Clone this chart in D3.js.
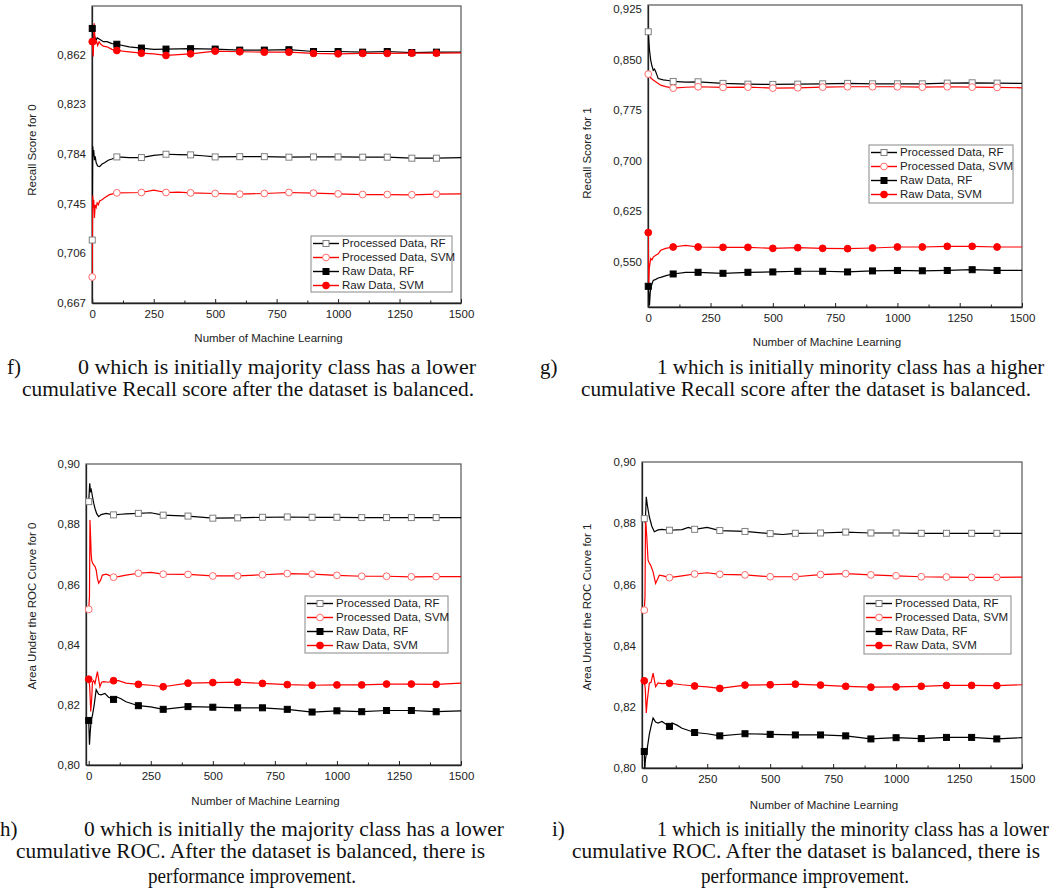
<!DOCTYPE html>
<html><head><meta charset="utf-8">
<script src="https://cdn.jsdelivr.net/npm/d3@7"></script>
<style>body{margin:0;background:#fff;overflow:hidden}</style>
</head><body>
<svg id="c" width="1057" height="892"></svg>
<script>
// ---------------- DATA ----------------
const seriesNames = ["Processed Data, RF", "Processed Data, SVM", "Raw Data, RF", "Raw Data, SVM"];
const markerX = [0,100,200,300,400,500,600,700,800,900,1000,1100,1200,1300,1400];
const xTicks = [0,250,500,750,1000,1250,1500];
const xMinorTicks = [125,375,625,875,1125,1375];
const fYTicks = [0.667,0.706,0.745,0.784,0.823,0.862];
const gYTicks = [0.550,0.625,0.700,0.775,0.850,0.925];
const hYTicks = [0.80,0.82,0.84,0.86,0.88,0.90];
const iYTicks = [0.80,0.82,0.84,0.86,0.88,0.90];

// f) Recall score for 0
const fProcRF = [[0,0.7164],[2,0.790],[4,0.782],[6,0.787],[9,0.779],[12,0.782],[16,0.777],[22,0.7745],[30,0.774],[40,0.776],[50,0.777],[65,0.779],[80,0.780],[100,0.7816],[150,0.781],[200,0.7811],[250,0.7828],[300,0.7837],[350,0.7834],[400,0.7832],[450,0.7825],[500,0.7816],[600,0.7818],[700,0.7818],[800,0.7814],[900,0.7816],[1000,0.7816],[1100,0.7814],[1200,0.7814],[1300,0.7806],[1400,0.7806],[1500,0.7811]];
const fProcSVM = [[0,0.6874],[2,0.7514],[4,0.742],[6,0.748],[9,0.7338],[12,0.744],[16,0.742],[20,0.7456],[25,0.744],[30,0.7470],[40,0.7480],[50,0.7495],[70,0.7520],[100,0.7534],[150,0.7535],[200,0.7537],[250,0.7555],[300,0.7537],[350,0.7540],[400,0.7534],[500,0.7529],[600,0.7524],[700,0.7529],[800,0.7537],[900,0.7532],[1000,0.7526],[1100,0.7521],[1200,0.7521],[1300,0.7519],[1400,0.7524],[1500,0.7526]];
const fRawRF = [[0,0.8824],[3,0.878],[6,0.874],[10,0.876],[15,0.873],[20,0.875],[30,0.874],[45,0.872],[60,0.872],[80,0.8705],[100,0.8700],[150,0.868],[200,0.867],[250,0.866],[300,0.8662],[400,0.8665],[500,0.8662],[600,0.8654],[700,0.8654],[800,0.8657],[900,0.8643],[1000,0.8643],[1100,0.8638],[1200,0.8643],[1300,0.8635],[1400,0.8638],[1500,0.8638]];
const fRawSVM = [[0,0.872],[2,0.865],[4,0.8604],[6,0.874],[8,0.8865],[10,0.878],[13,0.870],[17,0.873],[22,0.869],[28,0.872],[35,0.870],[45,0.8685],[60,0.868],[80,0.866],[100,0.8651],[150,0.8640],[200,0.863],[250,0.8625],[300,0.8612],[350,0.8618],[400,0.8625],[500,0.8646],[600,0.8641],[700,0.8638],[800,0.8638],[900,0.8628],[1000,0.8625],[1100,0.8628],[1200,0.8628],[1300,0.863],[1400,0.863],[1500,0.8633]];

// g) Recall score for 1
const gProcRF = [[0,0.8913],[3,0.875],[5,0.864],[8,0.855],[10,0.849],[14,0.842],[20,0.834],[25,0.836],[30,0.832],[35,0.827],[40,0.822],[60,0.820],[80,0.819],[100,0.8176],[150,0.8165],[200,0.8171],[300,0.8147],[400,0.8136],[500,0.8132],[600,0.8136],[700,0.8141],[800,0.8147],[900,0.8141],[1000,0.8141],[1100,0.8141],[1200,0.8151],[1300,0.8156],[1400,0.8151],[1500,0.8147]];
const gProcSVM = [[0,0.8285],[5,0.826],[10,0.823],[20,0.8196],[30,0.817],[50,0.8121],[70,0.810],[100,0.8077],[150,0.809],[200,0.8097],[300,0.8087],[400,0.8092],[500,0.8077],[600,0.8082],[700,0.8092],[800,0.8097],[900,0.8097],[1000,0.8097],[1100,0.8092],[1200,0.8097],[1300,0.8092],[1400,0.8087],[1500,0.8082]];
const gRawRF = [[0,0.5137],[3,0.500],[5,0.4854],[8,0.505],[12,0.5137],[16,0.518],[20,0.5225],[30,0.524],[40,0.526],[50,0.527],[75,0.530],[100,0.532],[150,0.5345],[200,0.5345],[300,0.533],[400,0.5345],[500,0.535],[600,0.536],[700,0.536],[800,0.535],[900,0.5365],[1000,0.5372],[1100,0.5367],[1200,0.5372],[1300,0.5383],[1400,0.5372],[1500,0.5372]];
const gRawSVM = [[0,0.5934],[2,0.513],[4,0.540],[7,0.548],[10,0.555],[15,0.553],[20,0.557],[30,0.5597],[40,0.562],[50,0.5671],[70,0.570],[100,0.5720],[150,0.5745],[200,0.5720],[300,0.5715],[400,0.5715],[500,0.570],[600,0.571],[700,0.570],[800,0.5695],[900,0.5705],[1000,0.5720],[1100,0.5720],[1200,0.5730],[1300,0.5730],[1400,0.5720],[1500,0.5720]];

// h) AUC for 0
const hProcRF = [[0,0.8875],[4,0.8936],[7,0.891],[10,0.8915],[15,0.8892],[20,0.8870],[25,0.8853],[32,0.8835],[40,0.8825],[50,0.8832],[70,0.8836],[100,0.8831],[130,0.8833],[150,0.8834],[200,0.8836],[250,0.8838],[300,0.8830],[400,0.8827],[500,0.8820],[600,0.8821],[700,0.8823],[800,0.8824],[900,0.8823],[1000,0.8823],[1100,0.8822],[1200,0.8822],[1300,0.8822],[1400,0.8822],[1500,0.8822]];
const hProcSVM = [[0,0.8517],[3,0.856],[5,0.8814],[8,0.8748],[10,0.870],[12,0.868],[16,0.867],[20,0.8665],[25,0.866],[30,0.8648],[35,0.862],[40,0.8604],[48,0.8615],[55,0.8631],[70,0.8634],[100,0.8624],[120,0.8626],[150,0.8631],[200,0.8637],[250,0.8640],[300,0.8634],[400,0.8633],[500,0.8628],[600,0.8628],[700,0.8632],[800,0.8636],[900,0.8634],[1000,0.8630],[1100,0.8627],[1200,0.8627],[1300,0.8625],[1400,0.8626],[1500,0.8626]];
const hRawRF = [[0,0.8148],[3,0.8067],[6,0.811],[10,0.8150],[15,0.8165],[22,0.820],[30,0.8250],[40,0.8235],[50,0.8233],[65,0.8238],[80,0.8225],[100,0.8218],[110,0.8227],[130,0.8220],[150,0.8210],[200,0.8197],[250,0.8193],[300,0.8185],[400,0.8194],[500,0.8192],[600,0.8190],[700,0.8190],[800,0.8185],[900,0.8176],[1000,0.8180],[1100,0.8177],[1200,0.8181],[1300,0.8181],[1400,0.8177],[1500,0.8180]];
const hRawSVM = [[0,0.8285],[4,0.826],[8,0.8178],[12,0.822],[15,0.8275],[20,0.828],[25,0.827],[35,0.8310],[45,0.8260],[52,0.8275],[60,0.8277],[80,0.8275],[100,0.8280],[120,0.8280],[150,0.8272],[200,0.8268],[250,0.8265],[300,0.8260],[400,0.8272],[500,0.8274],[600,0.8275],[700,0.8271],[800,0.8267],[900,0.8265],[1000,0.8266],[1100,0.8266],[1200,0.8269],[1300,0.8269],[1400,0.8268],[1500,0.8272]];

// i) AUC for 1
const iProcRF = [[0,0.8815],[4,0.880],[8,0.8886],[12,0.886],[16,0.884],[20,0.8821],[30,0.879],[40,0.8772],[55,0.8778],[70,0.8780],[100,0.8777],[150,0.8779],[175,0.8786],[200,0.8780],[250,0.8786],[300,0.8776],[400,0.8773],[500,0.8766],[550,0.8763],[600,0.8767],[700,0.8768],[800,0.8771],[900,0.8768],[1000,0.8768],[1100,0.8767],[1200,0.8767],[1300,0.8767],[1400,0.8767],[1500,0.8767]];
const iProcSVM = [[0,0.8516],[3,0.856],[5,0.8820],[10,0.8755],[15,0.8679],[20,0.867],[25,0.8663],[35,0.8641],[45,0.8603],[60,0.8630],[75,0.8628],[100,0.8622],[150,0.8628],[200,0.8634],[250,0.8638],[300,0.8633],[400,0.8631],[500,0.8625],[600,0.8625],[700,0.8632],[800,0.8635],[900,0.8631],[1000,0.8628],[1100,0.8625],[1200,0.8624],[1300,0.8623],[1400,0.8623],[1500,0.8624]];
const iRawRF = [[0,0.8054],[2,0.8000],[5,0.8030],[10,0.8054],[20,0.8110],[28,0.8140],[35,0.8163],[45,0.8150],[55,0.8147],[70,0.8152],[100,0.8136],[110,0.8147],[130,0.8140],[150,0.8130],[200,0.8116],[250,0.8112],[300,0.8105],[400,0.8112],[500,0.8110],[600,0.8108],[700,0.8108],[800,0.8105],[900,0.8095],[1000,0.8099],[1100,0.8096],[1200,0.8100],[1300,0.8100],[1400,0.8095],[1500,0.8099]];
const iRawSVM = [[0,0.8285],[4,0.826],[8,0.8180],[12,0.822],[20,0.8277],[27,0.828],[35,0.8310],[45,0.8266],[55,0.8278],[70,0.8276],[100,0.8277],[150,0.8272],[200,0.8268],[250,0.8265],[300,0.8260],[400,0.8271],[500,0.8272],[600,0.8274],[700,0.8271],[800,0.8267],[900,0.8264],[1000,0.8265],[1100,0.8267],[1200,0.8270],[1300,0.8270],[1400,0.8269],[1500,0.8272]];

const yLabels = ["Recall Score for 0", "Recall Score for 1", "Area Under the ROC Curve for 0", "Area Under the ROC Curve for 1"];
const xLabel = "Number of Machine Learning";

// ---------------- LAYOUT / STYLE ----------------
const svg = d3.select("#c");
const FONT = "'Liberation Sans', Arial, sans-serif";
const styles = [
  {line:"#000", shape:"square", fill:"#fff", stroke:"#808080"},
  {line:"#ff0000", shape:"circle", fill:"#fff", stroke:"#ff6a6a"},
  {line:"#000", shape:"square", fill:"#000", stroke:"#000"},
  {line:"#ff0000", shape:"circle", fill:"#ff0000", stroke:"#ff0000"}
];

const panels = [
  {id:"f", L:92, R:461, T:6, B:303, xd:[-1,1500], yd:[0.667,0.9], ticks:fYTicks, dec:3,
   series:[fProcRF,fProcSVM,fRawRF,fRawSVM], ylab:yLabels[0], ylx:33, yly:150, xly:339,
   leg:{x:311, y:236, w:141, h:56}},
  {id:"g", L:648, R:1022, T:5, B:307, xd:[-1,1500], yd:[0.483,0.931], ticks:gYTicks, dec:3,
   series:[gProcRF,gProcSVM,gRawRF,gRawSVM], ylab:yLabels[1], ylx:588, yly:153, xly:343,
   leg:{x:869, y:145, w:144, h:58}},
  {id:"h", L:86, R:461, T:464, B:765, xd:[-11,1500], yd:[0.80,0.90], ticks:hYTicks, dec:2,
   series:[hProcRF,hProcSVM,hRawRF,hRawSVM], ylab:yLabels[2], ylx:33, yly:606, xly:802,
   leg:{x:305, y:596, w:143, h:57}},
  {id:"i", L:642, R:1022, T:462, B:768, xd:[-9,1500], yd:[0.80,0.90], ticks:iYTicks, dec:2,
   series:[iProcRF,iProcSVM,iRawRF,iRawSVM], ylab:yLabels[3], ylx:588, yly:607, xly:806,
   leg:{x:864, y:596, w:147, h:58}}
];

function drawMarker(g, shape, cx, cy, st) {
  if (shape === "square") {
    g.append("rect").attr("x", cx-3).attr("y", cy-3).attr("width", 6).attr("height", 6)
      .attr("fill", st.fill).attr("stroke", st.stroke).attr("stroke-width", 1);
  } else {
    g.append("circle").attr("cx", cx).attr("cy", cy).attr("r", 3.4)
      .attr("fill", st.fill).attr("stroke", st.stroke).attr("stroke-width", 1);
  }
}

panels.forEach(p => {
  const x = d3.scaleLinear().domain(p.xd).range([p.L, p.R]);
  const y = d3.scaleLinear().domain(p.yd).range([p.B, p.T]);
  const g = svg.append("g");
  const fmt = v => d3.format("." + p.dec + "f")(v).replace(".", ",");

  g.append("clipPath").attr("id", "clip" + p.id).append("rect")
    .attr("x", p.L).attr("y", p.T).attr("width", p.R - p.L).attr("height", p.B - p.T);

  // frame
  g.append("rect").attr("x", p.L).attr("y", p.T).attr("width", p.R-p.L).attr("height", p.B-p.T)
    .attr("fill", "none").attr("stroke", "#555").attr("stroke-width", 1.2);

  // x axis (inward ticks)
  const xa = g.append("g").attr("transform", `translate(0,${p.B})`)
    .call(d3.axisBottom(x).tickValues(xTicks).tickSizeInner(-4).tickSizeOuter(0).tickPadding(7).tickFormat(d3.format("d")));
  xa.select(".domain").attr("stroke", "#222").attr("stroke-width", 1.3);
  xa.selectAll(".tick line").attr("stroke", "#222");
  xa.selectAll("text").attr("font-family", FONT).attr("font-size", 11.5).attr("fill", "#222");
  g.append("g").attr("transform", `translate(0,${p.B})`)
    .call(d3.axisBottom(x).tickValues(xMinorTicks).tickSizeInner(-2.5).tickSizeOuter(0).tickFormat(""))
    .call(s => s.select(".domain").remove())
    .selectAll(".tick line").attr("stroke", "#222");

  // y axis
  const ya = g.append("g").attr("transform", `translate(${p.L},0)`)
    .call(d3.axisLeft(y).tickValues(p.ticks).tickSizeInner(0).tickSizeOuter(0).tickPadding(6).tickFormat(fmt));
  ya.select(".domain").attr("stroke", "#222").attr("stroke-width", 1.3);
  ya.selectAll("text").attr("font-family", FONT).attr("font-size", 11.5).attr("fill", "#222");

  // axis labels
  g.append("text").attr("transform", `translate(${p.ylx},${p.yly}) rotate(-90)`)
    .attr("text-anchor", "middle").attr("dominant-baseline", "middle")
    .attr("font-family", FONT).attr("font-size", 11.5).attr("fill", "#222").text(p.ylab);
  g.append("text").attr("x", (p.L + p.R) / 2 - 8).attr("y", p.xly)
    .attr("text-anchor", "middle").attr("dominant-baseline", "middle")
    .attr("font-family", FONT).attr("font-size", 11.5).attr("fill", "#222").text(xLabel);

  // series lines
  const line = d3.line().x(d => x(d[0])).y(d => y(d[1]));
  const plot = g.append("g").attr("clip-path", `url(#clip${p.id})`);
  p.series.forEach((s, k) => {
    plot.append("path").datum(s).attr("d", line).attr("fill", "none")
      .attr("stroke", styles[k].line).attr("stroke-width", 1.2);
  });
  // markers
  const mg = g.append("g");
  p.series.forEach((s, k) => {
    s.filter(d => markerX.includes(d[0])).forEach(d => drawMarker(mg, styles[k].shape, x(d[0]), y(d[1]), styles[k]));
  });

  // legend
  const lg = g.append("g");
  lg.append("rect").attr("x", p.leg.x).attr("y", p.leg.y).attr("width", p.leg.w).attr("height", p.leg.h)
    .attr("fill", "#fff").attr("stroke", "#888").attr("stroke-width", 1);
  seriesNames.forEach((n, k) => {
    const ry = p.leg.y + 7.5 + k * 14;
    lg.append("line").attr("x1", p.leg.x + 2).attr("x2", p.leg.x + 28).attr("y1", ry).attr("y2", ry)
      .attr("stroke", styles[k].line).attr("stroke-width", 1.4);
    drawMarker(lg, styles[k].shape, p.leg.x + 15, ry, styles[k]);
    lg.append("text").attr("x", p.leg.x + 31).attr("y", ry).attr("dominant-baseline", "middle")
      .attr("font-family", FONT).attr("font-size", 11.5).attr("fill", "#222").text(n);
  });
});

// ---------------- CAPTIONS ----------------
const captions = [
  {t:"f)", x:7, y:374},
  {t:"0 which is initially majority class has a lower", x:78, y:374, w:398},
  {t:"cumulative Recall score after the dataset is balanced.", x:22, y:396, w:452},
  {t:"g)", x:540, y:374},
  {t:"1 which is initially minority class has a higher", x:657, y:374, w:393, fit:true},
  {t:"cumulative Recall score after the dataset is balanced.", x:581, y:396, w:450},
  {t:"h)", x:0, y:836},
  {t:"0 which is initially the majority class has a lower", x:84, y:836, w:420},
  {t:"cumulative ROC. After the dataset is balanced, there is", x:16, y:858, w:469},
  {t:"performance improvement.", x:148, y:883, w:208},
  {t:"i)", x:552, y:836},
  {t:"1 which is initially the minority class has a lower", x:657, y:836, w:392, fit:true},
  {t:"cumulative ROC. After the dataset is balanced, there is", x:572, y:858, w:468},
  {t:"performance improvement.", x:701, y:883, w:208}
];
captions.forEach(c => {
  const t = svg.append("text").attr("x", c.x).attr("y", c.y)
    .attr("font-family", "'Liberation Serif', 'Times New Roman', serif").attr("font-size", 21)
    .attr("fill", "#111").text(c.t);
  if (c.fit) {
    // near the right page edge: size the font so the natural width fits
    const nat = t.node().getComputedTextLength();
    if (nat > c.w) t.attr("font-size", 21 * c.w / nat);
  } else if (c.w) {
    t.attr("textLength", c.w).attr("lengthAdjust", "spacingAndGlyphs");
  }
});
</script>
</body></html>
